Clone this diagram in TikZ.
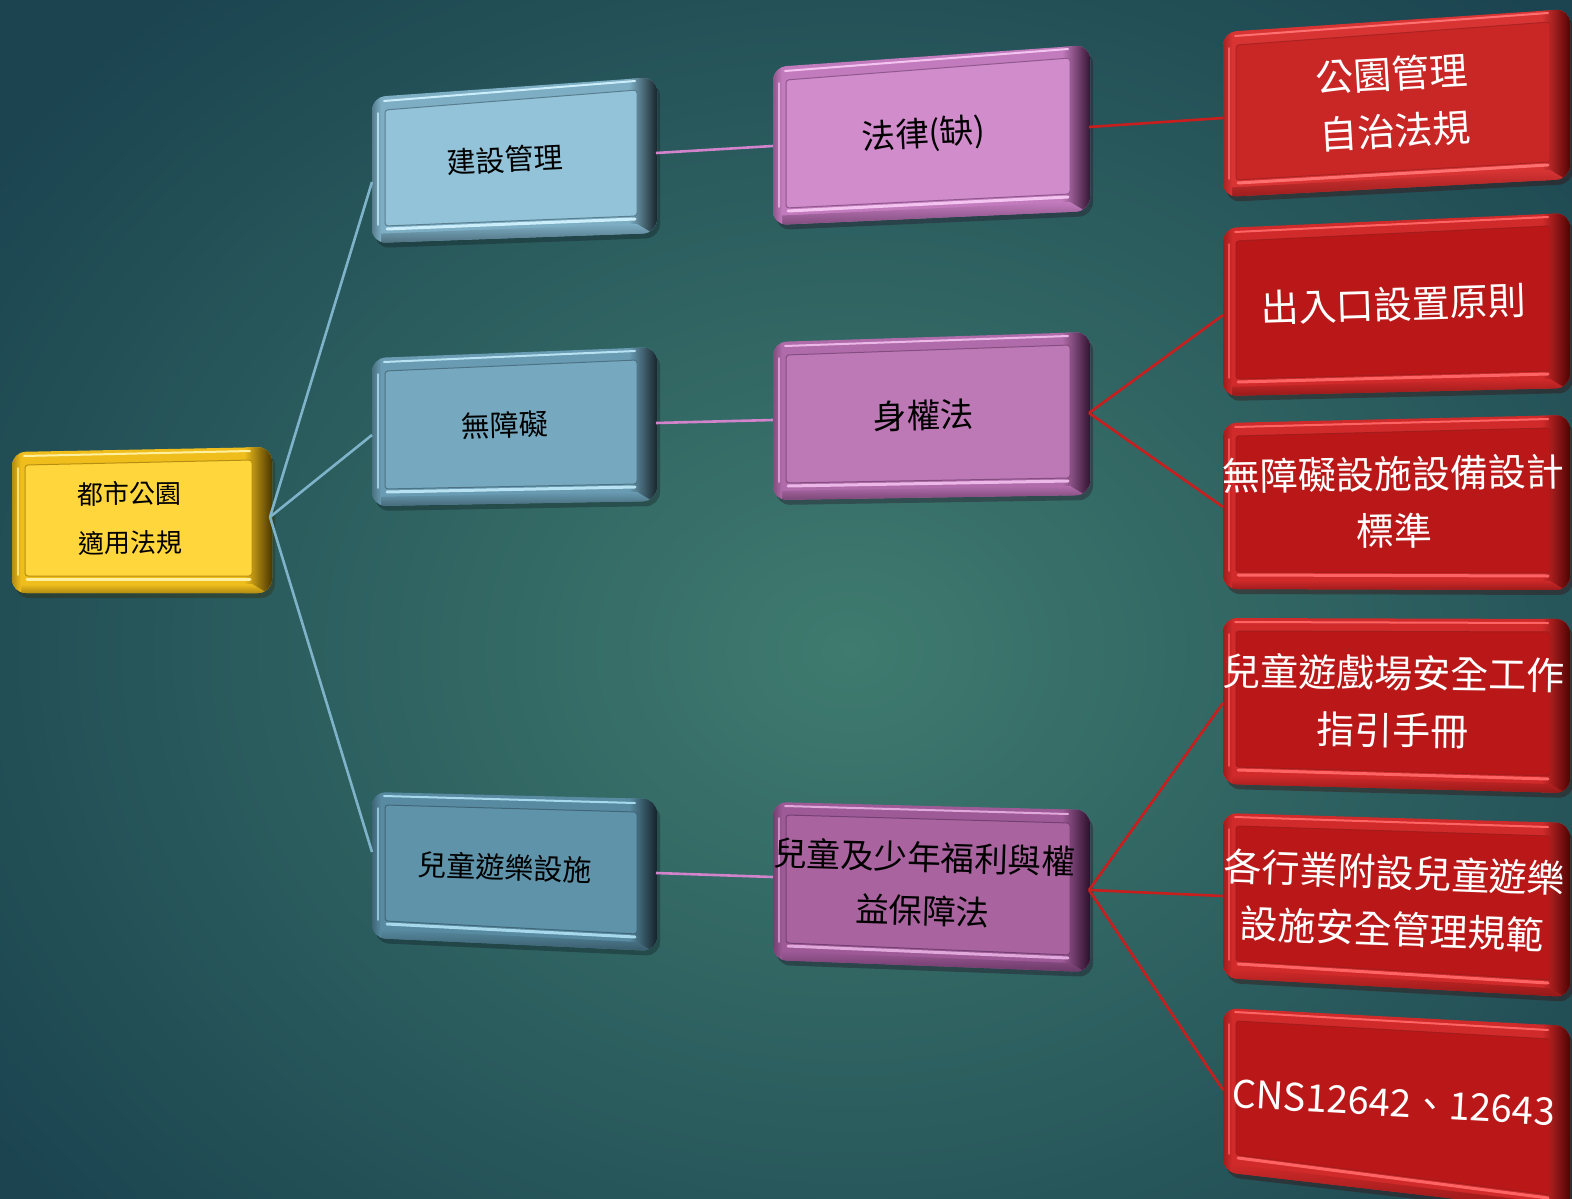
\documentclass[tikz,border=0pt]{standalone}
\usepackage{fontspec}
\setmainfont{Noto Sans CJK TC}
\usetikzlibrary{calc}
\definecolor{bgin}{HTML}{3F7B6F}
\definecolor{bgout}{HTML}{1B4450}
% yellow
\definecolor{yelface}{HTML}{FFD63C}
\definecolor{yelrim}{HTML}{F0BE1C}
\definecolor{yeldark}{HTML}{4A3600}
\definecolor{yellight}{HTML}{FFF0A0}
% blues
\definecolor{blu1face}{HTML}{93C3D9}
\definecolor{blu1rim}{HTML}{7DAEC4}
\definecolor{blu1dark}{HTML}{18262C}
\definecolor{blu1light}{HTML}{CBEEFA}
\definecolor{blu2face}{HTML}{76A9C0}
\definecolor{blu2rim}{HTML}{699BB2}
\definecolor{blu2dark}{HTML}{18262C}
\definecolor{blu2light}{HTML}{B8E2F2}
\definecolor{blu3face}{HTML}{5E93AA}
\definecolor{blu3rim}{HTML}{588BA1}
\definecolor{blu3dark}{HTML}{14222A}
\definecolor{blu3light}{HTML}{A8D8EC}
% purples
\definecolor{pur1face}{HTML}{D08CCB}
\definecolor{pur1rim}{HTML}{C27BBD}
\definecolor{pur1dark}{HTML}{361634}
\definecolor{pur1light}{HTML}{F4C4F0}
\definecolor{pur2face}{HTML}{BD79B6}
\definecolor{pur2rim}{HTML}{B06CAA}
\definecolor{pur2dark}{HTML}{321431}
\definecolor{pur2light}{HTML}{ECB8E8}
\definecolor{pur3face}{HTML}{A9649F}
\definecolor{pur3rim}{HTML}{9D5A97}
\definecolor{pur3dark}{HTML}{2C102B}
\definecolor{pur3light}{HTML}{E0A8DB}
% reds
\definecolor{redaface}{HTML}{C92626}
\definecolor{redarim}{HTML}{D83434}
\definecolor{redadark}{HTML}{560404}
\definecolor{redalight}{HTML}{FF7070}
\definecolor{redbface}{HTML}{BA1818}
\definecolor{redbrim}{HTML}{D02A2A}
\definecolor{redbdark}{HTML}{500303}
\definecolor{redblight}{HTML}{FF6464}
% connectors
\definecolor{lineblue}{HTML}{7EB3C9}
\definecolor{linepink}{HTML}{D383CC}
\definecolor{linered}{HTML}{C81E1E}

\tikzset{
  yeltext/.style={font=\fontsize{26}{49}\selectfont, text=black, align=center, xshift=-12pt, yshift=3pt},
  blutext/.style={font=\fontsize{29}{50}\selectfont, text=black, align=center, xshift=-10pt, yshift=3pt},
  purtext/.style={font=\fontsize{33.5}{54}\selectfont, text=black, align=center, xshift=-8pt, yshift=2pt},
  redtext/.style={font=\fontsize{38}{57}\selectfont, text=white, align=center, xshift=-3pt, yshift=2pt},
  conblue/.style={draw=lineblue, line width=2.6pt},
  conpink/.style={draw=linepink, line width=2.6pt},
  conred/.style={draw=linered, line width=2.6pt},
}

% #1 name, #2 TL, #3 TR, #4 BR, #5 BL, #6 colour prefix, #7 text angle, #8 text, #9 text style
\newcommand\bevbox[9]{%
  \coordinate (#1tl) at #2;
  \coordinate (#1tr) at #3;
  \coordinate (#1br) at #4;
  \coordinate (#1bl) at #5;
  \fill[#6dark!70!black, rounded corners=14pt, opacity=0.35]
    ($(#1tl)+(3,5)$) -- ($(#1tr)+(3,5)$) -- ($(#1br)+(3,5)$) -- ($(#1bl)+(3,5)$) -- cycle;
  \fill[#6rim, rounded corners=14pt] (#1tl) -- (#1tr) -- (#1br) -- (#1bl) -- cycle;
  \begin{scope}
    \clip[rounded corners=14pt] (#1tl) -- (#1tr) -- (#1br) -- (#1bl) -- cycle;
    \shade[left color=#6rim, right color=#6dark]
      ($(#1tr)+(-28,-5)$) -- ($(#1tr)+(0,-5)$) -- ($(#1br)+(0,5)$) -- ($(#1br)+(-28,5)$) -- cycle;
    \shade[top color=#6rim, bottom color=#6dark!55!#6rim]
      ($(#1bl)+(-2,-9)$) -- ($(#1br)+(-20,-9)$) -- ($(#1br)+(2,4)$) -- ($(#1bl)+(-2,4)$) -- cycle;
    \shade[left color=#6dark!45!#6rim, right color=#6rim]
      ($(#1tl)+(-2,0)$) -- ($(#1tl)+(9,0)$) -- ($(#1bl)+(9,0)$) -- ($(#1bl)+(-2,0)$) -- cycle;
  \end{scope}
  \draw[#6light, line width=2pt, line cap=round] ($(#1tl)+(12,4)$) -- ($(#1tr)+(-22,4)$);
  \fill[#6face, rounded corners=3pt, draw=#6dark!35!#6rim, line width=1pt]
    ($(#1tl)+(13,13)$) -- ($(#1tr)+(-20,13)$) -- ($(#1br)+(-20,-17)$) -- ($(#1bl)+(13,-17)$) -- cycle;
  \draw[#6light, line width=3pt, line cap=round] ($(#1bl)+(15,-14)$) -- ($(#1br)+(-22,-14)$);
  \draw[#6light!70!#6rim, line width=1.5pt, line cap=round] ($(#1tl)+(6,16)$) -- ($(#1bl)+(6,-18)$);
  \coordinate (#1ca) at ($(#1tl)!.5!(#1br)$);
  \coordinate (#1cb) at ($(#1tr)!.5!(#1bl)$);
  \node[#9, rotate=#7, inner sep=0pt] (#1) at ($(#1ca)!.5!(#1cb)$) {#8};
}

\begin{document}
\begin{tikzpicture}[x=1pt, y=-1pt]
\useasboundingbox (0,0) rectangle (1572,1199);
\shade[inner color=bgin, outer color=bgout] (-200,-200) rectangle (1900,1500);

% boxes
\bevbox{root}{(12,452)}{(272,447)}{(272,593)}{(12,593)}{yel}{0.5}{都市公園\\適用法規}{yeltext}

\bevbox{bA}{(372,97)}{(657,77)}{(657,233)}{(372,243)}{blu1}{2.8}{建設管理}{blutext}
\bevbox{bB}{(372,358)}{(657,347)}{(657,501)}{(372,506)}{blu2}{1.5}{無障礙}{blutext}
\bevbox{bC}{(372,792)}{(657,799)}{(657,951)}{(372,938)}{blu3}{-2}{兒童遊樂設施}{blutext}

\bevbox{pA}{(773,67)}{(1090,45)}{(1090,211)}{(773,225)}{pur1}{3.2}{法律(缺)}{purtext}
\bevbox{pB}{(773,342)}{(1090,332)}{(1090,495)}{(773,500)}{pur2}{1.3}{身權法}{purtext}
\bevbox{pC}{(773,802)}{(1090,810)}{(1090,972)}{(773,960)}{pur3}{-1.8}{兒童及少年福利與權\\益保障法}{purtext}

\bevbox{rA}{(1223,32)}{(1570,9)}{(1570,179)}{(1223,197)}{reda}{3.3}{公園管理\\自治法規}{redtext}
\bevbox{rB}{(1223,228)}{(1570,213)}{(1570,388)}{(1223,396)}{redb}{1.8}{出入口設置原則}{redtext}
\bevbox{rC}{(1223,423)}{(1570,415)}{(1570,590)}{(1223,589)}{redb}{0.8}{無障礙設施設備設計\\標準}{redtext}
\bevbox{rD}{(1223,618)}{(1570,619)}{(1570,793)}{(1223,784)}{redb}{-0.8}{兒童遊戲場安全工作\\指引手冊}{redtext}
\bevbox{rE}{(1223,813)}{(1570,823)}{(1570,997)}{(1223,978)}{redb}{-2.2}{各行業附設兒童遊樂\\設施安全管理規範}{redtext}
\bevbox{rF}{(1223,1008)}{(1570,1026)}{(1570,1212)}{(1223,1172)}{redb}{-3.2}{CNS12642、12643}{redtext}

% connector end points
\coordinate (rootR) at (270,517);
\coordinate (bAL) at (372,182);  \coordinate (bAR) at (656,153);
\coordinate (bBL) at (372,435);  \coordinate (bBR) at (656,423);
\coordinate (bCL) at (372,852);  \coordinate (bCR) at (656,873);
\coordinate (pAL) at (773,146);  \coordinate (pAR) at (1089,127);
\coordinate (pBL) at (773,420);  \coordinate (pBR) at (1089,413);
\coordinate (pCL) at (773,877);  \coordinate (pCR) at (1089,890);
\coordinate (rAL) at (1223,118);
\coordinate (rBL) at (1223,315);
\coordinate (rCL) at (1223,507);
\coordinate (rDL) at (1223,703);
\coordinate (rEL) at (1223,896);
\coordinate (rFL) at (1223,1090);

% connectors
\draw[conblue] (rootR) -- (bAL);
\draw[conblue] (rootR) -- (bBL);
\draw[conblue] (rootR) -- (bCL);
\draw[conpink] (bAR) -- (pAL);
\draw[conpink] (bBR) -- (pBL);
\draw[conpink] (bCR) -- (pCL);
\draw[conred] (pAR) -- (rAL);
\draw[conred] (pBR) -- (rBL);
\draw[conred] (pBR) -- (rCL);
\draw[conred] (pCR) -- (rDL);
\draw[conred] (pCR) -- (rEL);
\draw[conred] (pCR) -- (rFL);
\end{tikzpicture}
\end{document}
